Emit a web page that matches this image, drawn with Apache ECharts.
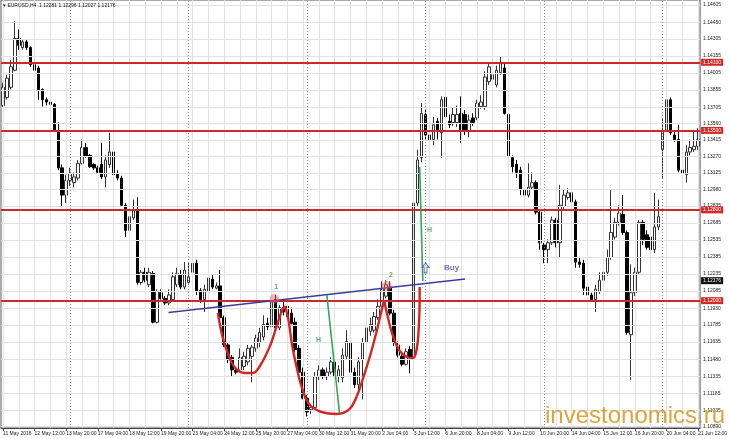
<!DOCTYPE html>
<html><head><meta charset="utf-8">
<script src="https://cdn.jsdelivr.net/npm/echarts@6/dist/echarts.min.js"></script>
<style>html,body{margin:0;padding:0;background:#fff}#c{width:730px;height:439px}</style>
</head><body><div id="c"></div>
<script>
// ---------- data ----------
const tradingDays = ['11 May','12 May','13 May','16 May','17 May','18 May','19 May','20 May','23 May','24 May','25 May','26 May','27 May','30 May','31 May','1 Jun','2 Jun','3 Jun','6 Jun','7 Jun','8 Jun','9 Jun','10 Jun','13 Jun','14 Jun','15 Jun','16 Jun','17 Jun','20 Jun','21 Jun'];
const hours = ['00:00','04:00','08:00','12:00','16:00','20:00'];
const tickLabels = ['11 May 2016','12 May 12:00','13 May 20:00','17 May 04:00','18 May 12:00','19 May 20:00','23 May 04:00','24 May 12:00','25 May 20:00','27 May 04:00','30 May 12:00','31 May 20:00','2 Jun 04:00','3 Jun 12:00','6 Jun 20:00','8 Jun 04:00','9 Jun 12:00','10 Jun 20:00','14 Jun 04:00','15 Jun 12:00','16 Jun 20:00','20 Jun 04:00','21 Jun 12:00'];
const priceLabels = ['1.14605','1.14450','1.14305','1.14155','1.14005','1.13855','1.13705','1.13560','1.13415','1.13270','1.13125','1.12980','1.12835','1.12685','1.12535','1.12385','1.12235','1.12085','1.11930','1.11785','1.11635','1.11480','1.11335','1.11185','1.11035','1.10890'];

const open = [
1.1372,1.1379,1.1388,1.1403,1.1431,1.1423,1.1428,1.1423,1.1408,1.1405,
1.1386,1.1377,1.1375,1.1373,1.1350,1.1317,1.1293,1.1306,1.1304,1.1308,
1.1321,1.1335,1.1328,1.1320,1.1317,1.1320,1.1309,1.1320,1.1331,1.1312,
1.1308,1.1284,1.1262,1.1273,1.1280,1.1216,1.1225,1.1214,1.1224,1.1181,
1.1207,1.1202,1.1198,1.1201,1.1214,1.1223,1.1212,1.1216,1.1225,1.1233,
1.1209,1.1201,1.1208,1.1219,1.1211,1.1213,1.1185,1.1161,1.1150,1.1139,
1.1139,1.1142,1.1146,1.1151,1.1158,1.1163,1.1168,1.1180,1.1177,1.1201,
1.1176,1.1194,1.1195,1.1189,1.1181,1.1158,1.1137,1.1114,1.1104,1.1106,
1.1133,1.1139,1.1133,1.1137,1.1146,1.1133,1.1132,1.1151,1.1163,1.1137,
1.1126,1.1148,1.1163,1.1173,1.1174,1.1185,1.1195,1.1204,1.1212,1.1189,
1.1161,1.1151,1.1144,1.1157,1.1150,1.1286,1.1326,1.1364,1.1346,1.1342,
1.1358,1.1348,1.1379,1.1358,1.1357,1.1357,1.1365,1.1364,1.1349,1.1361,
1.1361,1.1371,1.1371,1.1393,1.1395,1.1390,1.1401,1.1405,1.1364,1.1326,
1.1320,1.1315,1.1298,1.1293,1.1300,1.1304,1.1278,1.1249,1.1245,1.1251,
1.1271,1.1251,1.1283,1.1291,1.1295,1.1287,1.1234,1.1233,1.1212,1.1205,
1.1201,1.1208,1.1218,1.1225,1.1238,1.1256,1.1269,1.1276,1.1260,1.1170,
1.1207,1.1225,1.1269,1.1258,1.1256,1.1245,1.1265,1.1333,1.1350,1.1377,
1.1346,1.1342,1.1315,1.1311,1.1331,1.1333,1.1336];
const close = [
1.1388,1.1396,1.1406,1.1431,1.1425,1.1428,1.1423,1.1408,1.1403,1.1386,
1.1377,1.1375,1.1373,1.1350,1.1317,1.1293,1.1306,1.1312,1.1309,1.1321,
1.1335,1.1327,1.1318,1.1317,1.1313,1.1309,1.1324,1.1331,1.1311,1.1308,
1.1284,1.1262,1.1274,1.1280,1.1216,1.1225,1.1218,1.1225,1.1181,1.1208,
1.1202,1.1198,1.1205,1.1221,1.1224,1.1212,1.1227,1.1221,1.1233,1.1208,
1.1201,1.1210,1.1220,1.1212,1.1213,1.1185,1.1161,1.1148,1.1139,1.1137,
1.1150,1.1151,1.1158,1.1159,1.1167,1.1172,1.1179,1.1177,1.1199,1.1176,
1.1194,1.1190,1.1186,1.1180,1.1157,1.1137,1.1114,1.1102,1.1106,1.1133,
1.1139,1.1133,1.1137,1.1146,1.1133,1.1139,1.1152,1.1164,1.1137,1.1126,
1.1146,1.1163,1.1176,1.1179,1.1186,1.1195,1.1210,1.1214,1.1189,1.1163,
1.1152,1.1144,1.1155,1.1150,1.1286,1.1324,1.1365,1.1346,1.1342,1.1355,
1.1349,1.1377,1.1362,1.1355,1.1364,1.1364,1.1350,1.1350,1.1359,1.1357,
1.1374,1.1375,1.1397,1.1406,1.1399,1.1403,1.1410,1.1365,1.1327,1.1318,
1.1313,1.1298,1.1293,1.1300,1.1304,1.1278,1.1251,1.1245,1.1251,1.1271,
1.1251,1.1284,1.1293,1.1295,1.1287,1.1234,1.1232,1.1211,1.1205,1.1201,
1.1210,1.1218,1.1225,1.1238,1.1260,1.1269,1.1277,1.1260,1.1172,1.1207,
1.1225,1.1269,1.1254,1.1247,1.1245,1.1265,1.1274,1.1350,1.1377,1.1348,
1.1342,1.1315,1.1312,1.1331,1.1335,1.1336,1.1342];
const low = [
1.1370,1.1377,1.1386,1.1402,1.1421,1.1421,1.1421,1.1406,1.1402,1.1377,
1.1371,1.1372,1.1371,1.1349,1.1315,1.1283,1.1286,1.1301,1.1300,1.1306,
1.1320,1.1326,1.1317,1.1315,1.1312,1.1307,1.1300,1.1317,1.1309,1.1306,
1.1283,1.1256,1.1260,1.1271,1.1214,1.1214,1.1216,1.1212,1.1180,1.1180,
1.1201,1.1196,1.1196,1.1199,1.1212,1.1210,1.1210,1.1214,1.1222,1.1205,
1.1198,1.1190,1.1206,1.1210,1.1210,1.1183,1.1159,1.1145,1.1133,1.1135,
1.1137,1.1139,1.1143,1.1128,1.1155,1.1159,1.1165,1.1174,1.1174,1.1174,
1.1174,1.1187,1.1183,1.1179,1.1155,1.1135,1.1113,1.1098,1.1100,1.1104,
1.1130,1.1131,1.1130,1.1135,1.1130,1.1128,1.1128,1.1148,1.1134,1.1123,
1.1120,1.1113,1.1160,1.1169,1.1172,1.1183,1.1193,1.1202,1.1187,1.1160,
1.1150,1.1142,1.1143,1.1136,1.1136,1.1283,1.1322,1.1342,1.1337,1.1337,
1.1342,1.1326,1.1359,1.1352,1.1354,1.1353,1.1339,1.1346,1.1344,1.1354,
1.1359,1.1369,1.1368,1.1390,1.1393,1.1388,1.1399,1.1364,1.1324,1.1313,
1.1308,1.1293,1.1291,1.1291,1.1298,1.1276,1.1245,1.1233,1.1233,1.1249,
1.1247,1.1238,1.1280,1.1289,1.1284,1.1229,1.1229,1.1205,1.1189,1.1199,
1.1190,1.1206,1.1214,1.1222,1.1236,1.1254,1.1266,1.1258,1.1170,1.1130,
1.1204,1.1223,1.1249,1.1245,1.1242,1.1242,1.1262,1.1308,1.1348,1.1346,
1.1340,1.1313,1.1302,1.1304,1.1328,1.1331,1.1333];
const high = [
1.1392,1.1399,1.1412,1.1446,1.1439,1.1430,1.1430,1.1424,1.1412,1.1407,
1.1387,1.1379,1.1376,1.1374,1.1357,1.1320,1.1311,1.1317,1.1313,1.1324,
1.1342,1.1339,1.1329,1.1321,1.1319,1.1339,1.1328,1.1348,1.1333,1.1315,
1.1310,1.1286,1.1280,1.1289,1.1291,1.1227,1.1229,1.1229,1.1226,1.1210,
1.1210,1.1204,1.1210,1.1225,1.1229,1.1227,1.1234,1.1234,1.1242,1.1236,
1.1211,1.1214,1.1225,1.1223,1.1216,1.1227,1.1187,1.1163,1.1152,1.1141,
1.1158,1.1155,1.1161,1.1161,1.1170,1.1176,1.1187,1.1185,1.1202,1.1205,
1.1196,1.1201,1.1201,1.1194,1.1185,1.1161,1.1141,1.1117,1.1108,1.1137,
1.1143,1.1141,1.1141,1.1150,1.1148,1.1143,1.1158,1.1174,1.1167,1.1141,
1.1150,1.1167,1.1181,1.1185,1.1190,1.1201,1.1217,1.1218,1.1217,1.1192,
1.1164,1.1155,1.1158,1.1160,1.1292,1.1333,1.1374,1.1368,1.1352,1.1362,
1.1361,1.1380,1.1392,1.1364,1.1370,1.1372,1.1380,1.1368,1.1364,1.1365,
1.1377,1.1381,1.1402,1.1410,1.1403,1.1407,1.1415,1.1409,1.1365,1.1328,
1.1324,1.1318,1.1300,1.1321,1.1313,1.1306,1.1280,1.1251,1.1254,1.1274,
1.1273,1.1302,1.1298,1.1299,1.1298,1.1289,1.1238,1.1236,1.1214,1.1207,
1.1214,1.1225,1.1234,1.1245,1.1298,1.1273,1.1284,1.1293,1.1262,1.1232,
1.1229,1.1271,1.1271,1.1262,1.1261,1.1295,1.1289,1.1361,1.1381,1.1379,
1.1350,1.1355,1.1320,1.1337,1.1342,1.1349,1.1352];

const levels = [1.1410, 1.1350, 1.1280, 1.1200];
const levelLabels = ['1.14100','1.13500','1.12800','1.12000'];
const bidPrice = 1.12176;
const weekStarts = [17, 47, 77, 107, 137, 167];
const trendLine = [[41.9,1.11895],[117.0,1.12191]];
const cupLeft = [[54.4,1.11891],[55.6,1.11680],[56.9,1.11539],[58.6,1.11416],[61.2,1.11363],[63.2,1.11363],[65.2,1.11433],[67.7,1.11610],[69.4,1.11786],[70.7,1.11918],[71.4,1.11953]];
const cupBig = [[71.4,1.11953],[72.2,1.11847],[73.2,1.11610],[74.4,1.11407],[75.7,1.11231],[77.7,1.11081],[80.7,1.11019],[84.5,1.11002],[87.5,1.11037],[89.5,1.11151],[91.2,1.11319],[93.0,1.11521],[94.7,1.11742],[96.0,1.11936],[96.5,1.12006]];
const cupRight = [[96.5,1.12006],[97.2,1.11891],[98.5,1.11715],[100.3,1.11565],[102.3,1.11504],[103.8,1.11495],[104.8,1.11583],[105.3,1.11786],[105.5,1.12006],[105.5,1.12121]];
const heightLeft = [[82.0,1.12050],[85.2,1.11010]];
const heightRight = [[105.5,1.13178],[106.3,1.12173]];
const peakPoints = [[68.7,1.12015],[97.2,1.12129]];
const greenTexts = [{name:'1',value:[69.2,1.12121]},{name:'2',value:[98.2,1.12226]},{name:'H',value:[79.9,1.11654]},{name:'H',value:[108.0,1.12623]}];
const buyText = [{name:'Buy',value:[113.6,1.12288]}];
const buyArrow = [[107.0,1.12288]];

// ---------- build ----------
const categories = [];
tradingDays.forEach((d, di) => hours.forEach((h, hi) => {
  if (di === 0 && hi === 0) return;
  categories.push(d + ' ' + h);
}));
categories.length = 177;
const N = categories.length;
const candles = open.map((o, i) => [o, close[i], low[i], high[i]]);
const priceTicks = priceLabels.map(parseFloat);
const vGrid = [];
for (let i = 0; i < N; i += 4) vGrid.push({xAxis: i});

const chart = echarts.init(document.getElementById('c'), null, {renderer: 'canvas'});
const F = 'Liberation Sans, Arial, sans-serif';
const hiddenBase = {type: 'line', xAxisIndex: 1, yAxisIndex: 0, data: [[0, 1.12]], showSymbol: false, lineStyle: {opacity: 0}, silent: true};
chart.setOption({
  animation: false,
  backgroundColor: '#ffffff',
  textStyle: {fontFamily: F},
  grid: {left: 1, top: 0, width: 706, height: 428, show: true, borderColor: '#555', borderWidth: 1, backgroundColor: '#fff'},
  xAxis: [{
    type: 'category', data: categories, boundaryGap: true,
    axisLine: {show: true, lineStyle: {color: '#444', width: 1}},
    axisTick: {show: true, alignWithLabel: true, interval: (i) => i % 8 === 0, length: 3, lineStyle: {color: '#444'}},
    axisLabel: {interval: (i) => i % 8 === 0, formatter: (v, i) => tickLabels[Math.round(i / 8)] || '', fontSize: 5, color: '#222', align: 'left', margin: 3, fontFamily: F},
    splitLine: {show: false}
  }, {
    type: 'value', min: -0.5, max: N - 0.5, show: false
  }],
  yAxis: [{
    type: 'value', position: 'right', min: 1.10878, max: 1.14649,
    axisLine: {show: true, lineStyle: {color: '#444'}},
    axisTick: {show: true, customValues: priceTicks, length: 2, lineStyle: {color: '#444'}},
    axisLabel: {customValues: priceTicks, formatter: (v) => v.toFixed(5), fontSize: 5, color: '#222', margin: 3, fontFamily: F},
    splitLine: {show: false}
  }],
  graphic: [
    {type: 'text', left: 3, top: 3, z: 100, style: {text: '\u25BE EURUSD,H4  1.12281 1.12296 1.12027 1.12176', font: '5px ' + F, fill: '#111'}},
    {type: 'text', left: 545, top: 404, z: 100, style: {text: 'investonomics.ru', font: '24px ' + F, fill: 'rgba(214,152,38,0.88)'}}
  ],
  series: [
    Object.assign({}, hiddenBase, {z: 0,
      markLine: {silent: true, symbol: 'none', precision: 6, label: {show: false}, animation: false,
        lineStyle: {color: '#e2e2e2', width: 1, type: 'solid'},
        data: priceTicks.map(p => ({yAxis: p})).concat(vGrid)}}),
    Object.assign({}, hiddenBase, {z: 1,
      markLine: {silent: true, symbol: 'none', precision: 6, label: {show: false}, animation: false,
        lineStyle: {color: '#8a8a8a', width: 1, type: [1, 2]},
        data: weekStarts.map(x => ({xAxis: x}))}}),
    {
      type: 'candlestick', xAxisIndex: 0, yAxisIndex: 0, data: candles, barWidth: 3, z: 3,
      itemStyle: {color: '#ffffff', color0: '#000000', borderColor: '#333333', borderColor0: '#000000', borderWidth: 1}
    },
    Object.assign({}, hiddenBase, {z: 5,
      markLine: {silent: true, symbol: 'none', precision: 6, animation: false,
        lineStyle: {color: '#cc2a2a', width: 1.8, type: 'solid'},
        label: {show: true, position: 'end', distance: 1, formatter: (p) => p.data && p.data.txt ? p.data.txt : '', color: '#fff', backgroundColor: '#d42a2a', fontSize: 5, padding: [1, 2], fontFamily: F},
        data: levels.map((v, i) => ({yAxis: v, txt: levelLabels[i]}))}}),
    Object.assign({}, hiddenBase, {z: 6,
      markLine: {silent: true, symbol: 'none', precision: 6, animation: false,
        lineStyle: {color: 'rgba(0,0,0,0)', width: 1, opacity: 1},
        label: {show: true, position: 'end', distance: 1, formatter: () => bidPrice.toFixed(5), color: '#fff', backgroundColor: '#111', fontSize: 5, padding: [1, 2], fontFamily: F},
        data: [{yAxis: bidPrice}]}}),
    {type: 'line', xAxisIndex: 1, yAxisIndex: 0, data: trendLine, showSymbol: false, z: 6, lineStyle: {color: '#3c3ca0', width: 1.5}},
    {type: 'line', xAxisIndex: 1, yAxisIndex: 0, data: cupLeft, smooth: 0.4, showSymbol: false, z: 7, lineStyle: {color: '#d42424', width: 2.4}},
    {type: 'line', xAxisIndex: 1, yAxisIndex: 0, data: cupBig, smooth: 0.4, showSymbol: false, z: 7, lineStyle: {color: '#d42424', width: 2.4}},
    {type: 'line', xAxisIndex: 1, yAxisIndex: 0, data: cupRight, smooth: 0.4, showSymbol: false, z: 7, lineStyle: {color: '#d42424', width: 2.4}},
    {type: 'line', xAxisIndex: 1, yAxisIndex: 0, data: heightLeft, showSymbol: false, z: 7, lineStyle: {color: '#35a556', width: 1.6}},
    {type: 'line', xAxisIndex: 1, yAxisIndex: 0, data: heightRight, showSymbol: false, z: 7, lineStyle: {color: '#35a556', width: 1.6}},
    {type: 'scatter', xAxisIndex: 1, yAxisIndex: 0, data: peakPoints, symbol: 'circle', symbolSize: 10, z: 8, itemStyle: {color: 'rgba(236,96,96,0.6)'}},
    {type: 'scatter', xAxisIndex: 1, yAxisIndex: 0, data: greenTexts, symbolSize: 0, z: 9,
      label: {show: true, position: 'inside', formatter: '{b}', color: '#3a9d50', fontSize: 7, fontWeight: 'bold', fontFamily: F}},
    {type: 'scatter', xAxisIndex: 1, yAxisIndex: 0, data: buyText, symbolSize: 0, z: 9,
      label: {show: true, position: 'inside', formatter: '{b}', color: '#4650b0', fontSize: 8, fontWeight: 'bold', fontFamily: F}},
    {type: 'scatter', xAxisIndex: 1, yAxisIndex: 0, data: buyArrow, z: 9,
      symbol: 'path://M5,0 L10,5 L7,5 L7,12 L3,12 L3,5 L0,5 Z', symbolSize: [7, 10],
      itemStyle: {color: '#e6eaff', borderColor: '#4650b0', borderWidth: 1}}
  ]
});
</script></body></html>
